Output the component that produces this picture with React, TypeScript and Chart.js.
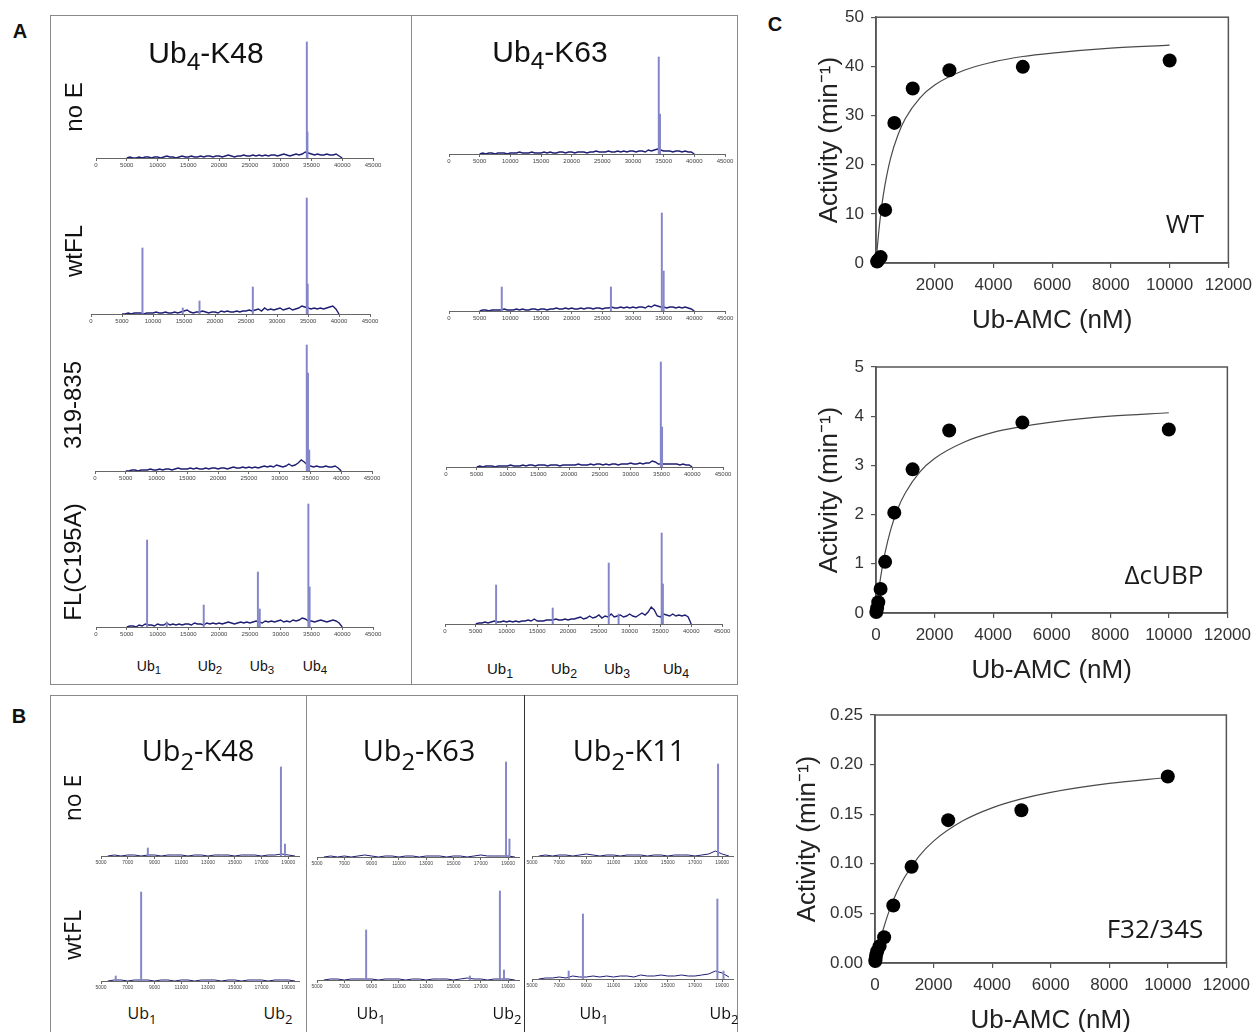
import React, { useEffect, useRef } from "react";
import { Chart, registerables } from "chart.js";

Chart.register(...registerables);
Chart.defaults.font.family = "'Liberation Sans', Arial, Helvetica, sans-serif";

// ---------------- DATA ----------------
// Panel A: Ub4 spectra (mass in Da, intensity in arbitrary units)
const TICKS_A = [0, 5000, 10000, 15000, 20000, 25000, 30000, 35000, 40000, 45000];
const MASS_A = [
  5000, 5500, 6000, 6500, 7000, 7500, 8000, 8500, 9000, 9500, 10000, 10500, 11000, 11500, 12000, 12500, 13000, 13500, 14000, 14500,
  15000, 15500, 16000, 16500, 17000, 17500, 18000, 18500, 19000, 19500, 20000, 20500, 21000, 21500, 22000, 22500, 23000, 23500, 24000, 24500,
  25000, 25500, 26000, 26500, 27000, 27500, 28000, 28500, 29000, 29500, 30000, 30500, 31000, 31500, 32000, 32500, 33000, 33500, 34000, 34500,
  35000, 35500, 36000, 36500, 37000, 37500, 38000, 38500, 39000, 39500, 40000,
];

const NOISE_K48_NOE = [
  0, 1, 0, 0, 1, 0, 1, 1, 0, 1, 1, 0, 1, 2, 1, 1, 0, 1, 2, 1,
  1, 2, 1, 1, 2, 1, 2, 2, 1, 2, 2, 1, 2, 3, 2, 1, 2, 2, 3, 2,
  2, 3, 2, 3, 2, 3, 2, 3, 3, 2, 3, 4, 3, 2, 3, 4, 3, 4, 6, 5,
  4, 3, 4, 3, 3, 4, 3, 3, 4, 2, 0,
];
const PEAKS_K48_NOE = [[34250, 116], [34350, 26]];
const NOISE_K48_WT = [
  0, 0, 1, 0, 1, 1, 1, 0, 1, 1, 1, 2, 1, 1, 2, 1, 1, 2, 1, 2,
  3, 4, 2, 1, 2, 2, 3, 2, 1, 2, 2, 1, 3, 2, 3, 2, 2, 3, 2, 3,
  3, 4, 3, 4, 5, 3, 6, 4, 5, 4, 5, 6, 4, 5, 6, 4, 5, 6, 8, 7,
  6, 5, 6, 5, 6, 5, 6, 7, 8, 5, 0,
];
const PEAKS_K48_WT = [[8300, 66], [14800, 6], [17500, 13], [26100, 27], [34800, 116], [34950, 30]];
const NOISE_K48_319 = [
  0, 0, 1, 1, 0, 1, 1, 1, 2, 1, 1, 2, 1, 2, 2, 1, 2, 3, 2, 2,
  2, 3, 2, 3, 2, 2, 3, 2, 3, 3, 2, 3, 3, 2, 3, 4, 3, 3, 4, 3,
  4, 3, 4, 3, 4, 5, 4, 5, 4, 6, 5, 4, 5, 7, 5, 6, 8, 11, 9, 6,
  5, 4, 5, 4, 4, 5, 4, 4, 5, 3, 0,
];
const PEAKS_K48_319 = [[34400, 126], [34600, 98], [34800, 21]];
const NOISE_K48_FL = [
  0, 1, 1, 0, 2, 1, 3, 2, 2, 1, 3, 2, 2, 4, 2, 3, 2, 3, 2, 3,
  3, 2, 4, 3, 3, 2, 4, 3, 4, 3, 4, 3, 4, 5, 4, 3, 4, 5, 4, 5,
  4, 5, 6, 5, 4, 6, 5, 6, 5, 6, 7, 5, 6, 5, 7, 6, 7, 9, 8, 6,
  6, 5, 6, 7, 6, 5, 6, 7, 6, 4, 0,
];
const PEAKS_K48_FL = [[8300, 87], [11500, 5], [17500, 22], [26300, 55], [26600, 18], [34500, 123], [34700, 40]];

const NOISE_K63_NOE = [
  0, 1, 0, 1, 1, 0, 1, 1, 1, 0, 1, 1, 1, 2, 1, 1, 1, 2, 1, 1,
  1, 2, 1, 2, 1, 1, 2, 2, 1, 2, 2, 1, 2, 2, 2, 1, 2, 2, 3, 2,
  2, 2, 3, 2, 2, 3, 2, 3, 2, 3, 3, 2, 3, 3, 2, 4, 3, 4, 5, 4,
  3, 3, 3, 2, 3, 3, 2, 3, 2, 2, 0,
];
const PEAKS_K63_NOE = [[34200, 97], [34400, 40]];
const NOISE_K63_WT = [
  0, 1, 1, 0, 1, 1, 1, 1, 2, 1, 1, 1, 2, 1, 2, 1, 1, 2, 2, 1,
  2, 2, 1, 2, 2, 3, 2, 2, 3, 2, 3, 2, 2, 3, 2, 3, 3, 2, 3, 3,
  2, 3, 3, 4, 3, 3, 4, 3, 4, 3, 4, 3, 4, 4, 3, 5, 4, 6, 5, 4,
  4, 3, 4, 4, 3, 4, 3, 4, 3, 2, 0,
];
const PEAKS_K63_WT = [[8600, 24], [26400, 24], [34700, 98], [35000, 40]];
const NOISE_K63_319 = [
  0, 1, 0, 1, 1, 1, 0, 1, 1, 1, 1, 2, 1, 1, 1, 2, 1, 2, 2, 1,
  2, 2, 2, 1, 2, 2, 2, 1, 2, 2, 2, 2, 2, 3, 2, 2, 2, 3, 2, 3,
  3, 2, 3, 2, 3, 3, 2, 3, 3, 3, 4, 3, 3, 4, 3, 4, 4, 6, 5, 3,
  3, 3, 3, 3, 3, 3, 2, 3, 2, 2, 0,
];
const PEAKS_K63_319 = [[34900, 105], [35100, 40]];
const NOISE_K63_FL = [
  0, 1, 1, 2, 1, 2, 3, 2, 2, 3, 2, 3, 2, 3, 2, 3, 3, 4, 3, 5,
  3, 3, 3, 4, 4, 4, 5, 4, 4, 5, 4, 5, 5, 6, 7, 5, 6, 8, 6, 7,
  9, 6, 8, 7, 10, 7, 8, 9, 7, 8, 10, 8, 7, 9, 11, 9, 12, 17, 14, 8,
  7, 10, 9, 8, 10, 8, 9, 8, 9, 7, 0,
];
const PEAKS_K63_FL = [[8300, 39], [17500, 16], [26600, 61], [28200, 10], [35200, 91], [35400, 40]];

// Panel B: Ub2 spectra
const TICKS_B = [5000, 7000, 9000, 11000, 13000, 15000, 17000, 19000];
const MASS_B = [5500, 6000, 6500, 7000, 7500, 8000, 8500, 9000, 9500, 10000, 10500, 11000, 11500, 12000, 12500, 13000, 13500, 14000, 14500, 15000, 15500, 16000, 16500, 17000, 17500, 18000, 18500, 19000, 19500];

const NOISE_B48_NOE = [0, 1, 0, 1, 1, 0, 1, 1, 0, 1, 1, 1, 0, 1, 1, 0, 1, 1, 1, 0, 1, 1, 1, 0, 1, 1, 2, 1, 0];
const PEAKS_B48_NOE = [[8500, 8], [18450, 89], [18750, 12]];
const NOISE_B48_WT = [0, 1, 1, 0, 1, 1, 1, 0, 1, 1, 0, 1, 1, 0, 1, 1, 1, 0, 1, 1, 0, 1, 1, 1, 0, 1, 1, 1, 0];
const PEAKS_B48_WT = [[6100, 5], [8000, 89]];
const NOISE_B63_NOE = [0, 1, 0, 1, 0, 1, 2, 1, 0, 1, 1, 0, 1, 1, 0, 1, 1, 1, 0, 1, 1, 0, 1, 2, 1, 1, 1, 1, 0];
const PEAKS_B63_NOE = [[18850, 95], [19100, 18]];
const NOISE_B63_WT = [0, 1, 1, 0, 1, 1, 1, 1, 0, 1, 1, 1, 0, 1, 1, 0, 1, 1, 1, 0, 1, 2, 1, 1, 0, 1, 1, 1, 0];
const PEAKS_B63_WT = [[8600, 50], [16200, 4], [18400, 89], [18700, 10]];
const NOISE_B11_NOE = [0, 1, 0, 1, 1, 0, 1, 2, 1, 0, 1, 1, 0, 1, 1, 1, 0, 1, 1, 0, 1, 1, 1, 0, 1, 2, 5, 2, 0];
const PEAKS_B11_NOE = [[18700, 92]];
const NOISE_B11_WT = [0, 1, 1, 2, 1, 3, 2, 2, 3, 2, 3, 2, 3, 3, 2, 4, 3, 3, 4, 3, 3, 4, 3, 3, 4, 5, 8, 6, 2];
const PEAKS_B11_WT = [[7700, 8], [8750, 65], [18650, 80], [19100, 8]];

// Panel C: Ub-AMC kinetics
const C_X_TICKS = [0, 2000, 4000, 6000, 8000, 10000, 12000];
const WT_Y_TICKS = [0, 10, 20, 30, 40, 50];
const DC_Y_TICKS = [0, 1, 2, 3, 4, 5];
const F3_Y_TICKS = [0, 0.05, 0.1, 0.15, 0.2, 0.25];

const WT_CONC = [39, 78, 156, 312, 625, 1250, 2500, 5000, 10000];
const WT_ACT = [0.3, 0.6, 1.2, 10.8, 28.5, 35.5, 39.2, 39.9, 41.2];
const DC_CONC = [10, 39, 78, 156, 312, 625, 1250, 2500, 5000, 10000];
const DC_ACT = [0.02, 0.1, 0.22, 0.49, 1.04, 2.04, 2.92, 3.71, 3.87, 3.73];
const F3_CONC = [10, 20, 39, 78, 156, 312, 625, 1250, 2500, 5000, 10000];
const F3_ACT = [0.002, 0.004, 0.008, 0.012, 0.017, 0.026, 0.058, 0.097, 0.144, 0.154, 0.188];

const FIT_CONC = [0, 100, 200, 300, 500, 750, 1000, 1500, 2000, 3000, 4000, 5000, 6000, 8000, 10000];
const WT_FIT = [0, 6.7, 11.8, 15.7, 21.4, 26.1, 29.4, 33.6, 36.2, 39.2, 40.9, 42.0, 42.7, 43.7, 44.3];
const DC_FIT = [0, 0.49, 0.88, 1.2, 1.69, 2.13, 2.44, 2.87, 3.14, 3.47, 3.67, 3.79, 3.88, 4.0, 4.07];
const F3_FIT = [0, 0.0134, 0.0253, 0.0358, 0.0538, 0.0717, 0.086, 0.1075, 0.1229, 0.1433, 0.1564, 0.1654, 0.172, 0.181, 0.187];

// ---------------- STYLE / LAYOUT ----------------
const SANS = "'Liberation Sans', Arial, Helvetica, sans-serif";
const OPEN = "'Open Sans', 'Noto Sans', sans-serif";
const NOISE_COLOR = "#1e1e74";
const PEAK_COLOR = "#8486c9";

type SpecProps = {
  mass: number[]; noise: number[]; peaks: number[][]; ticks: number[];
  min: number; max: number; ymax: number;
  x0: number; x1: number; base: number; h: number; font: number; lw: number;
};

function Spectrum(p: SpecProps) {
  const ref = useRef<HTMLCanvasElement>(null);
  const pad = 14;
  const axisH = 14;
  useEffect(() => {
    const chart = new Chart(ref.current as HTMLCanvasElement, {
      type: "bar",
      data: {
        datasets: [
          {
            type: "bar",
            data: p.peaks.map((q) => ({ x: q[0], y: q[1] })),
            backgroundColor: PEAK_COLOR,
            barThickness: 1.3,
            grouped: false,
          } as any,
          {
            type: "line",
            data: p.mass.map((m, i) => ({ x: m, y: p.noise[i] })),
            borderColor: NOISE_COLOR,
            borderWidth: p.lw,
            pointRadius: 0,
            tension: 0,
          } as any,
        ],
      },
      options: {
        responsive: false,
        animation: false,
        events: [],
        layout: { padding: { left: pad, right: pad, top: 0, bottom: 0 } },
        plugins: { legend: { display: false }, tooltip: { enabled: false } },
        scales: {
          x: {
            type: "linear",
            min: p.min,
            max: p.max,
            offset: false,
            afterBuildTicks: (a: any) => { a.ticks = p.ticks.map((v) => ({ value: v })); },
            afterFit: (a: any) => { a.height = axisH; },
            ticks: { font: { size: p.font }, color: "#444", padding: 1, maxRotation: 0, autoSkip: false, callback: (v: any) => String(v) },
            grid: { display: true, drawOnChartArea: false, drawTicks: true, tickLength: 3, color: "#666", offset: false },
            border: { display: true, color: "#666", width: 1 },
          },
          y: { display: false, min: 0, max: p.ymax },
        },
      } as any,
    });
    return () => chart.destroy();
  }, []);
  const w = p.x1 - p.x0 + 2 * pad;
  const hh = p.h + axisH;
  return (
    <canvas ref={ref} width={w} height={hh}
      style={{ position: "absolute", left: p.x0 - pad, top: p.base - p.h, width: w, height: hh }} />
  );
}

const boxPlugin = {
  id: "boxFrame",
  beforeDatasetsDraw(chart: any) {
    const { ctx, chartArea } = chart;
    ctx.save();
    ctx.strokeStyle = "#555";
    ctx.lineWidth = 1.5;
    ctx.strokeRect(chartArea.left, chartArea.top, chartArea.right - chartArea.left, chartArea.bottom - chartArea.top);
    ctx.restore();
  },
};

type KinProps = {
  px: number[]; py: number[]; cx: number[]; cy: number[];
  yTicks: number[]; yMax: number; yDigits: number; hideZeroX: boolean;
  left: number; top: number; w: number; h: number; padTop: number; padRight: number; yW: number; xH: number;
};

function Kinetics(p: KinProps) {
  const ref = useRef<HTMLCanvasElement>(null);
  useEffect(() => {
    const chart = new Chart(ref.current as HTMLCanvasElement, {
      type: "scatter",
      data: {
        datasets: [
          {
            data: p.px.map((x, i) => ({ x, y: p.py[i] })),
            backgroundColor: "#000",
            borderColor: "#000",
            pointRadius: 7,
            pointBorderWidth: 0,
            clip: false,
          } as any,
          {
            type: "line",
            data: p.cx.map((x, i) => ({ x, y: p.cy[i] })),
            borderColor: "#4a4a4a",
            borderWidth: 1.2,
            pointRadius: 0,
            showLine: true,
            fill: false,
            cubicInterpolationMode: "monotone",
          } as any,
        ],
      },
      options: {
        responsive: false,
        animation: false,
        events: [],
        layout: { padding: { left: 0, right: p.padRight, top: p.padTop, bottom: 0 } },
        plugins: { legend: { display: false }, tooltip: { enabled: false } },
        scales: {
          x: {
            type: "linear", min: 0, max: 12000,
            afterBuildTicks: (a: any) => { a.ticks = C_X_TICKS.map((v) => ({ value: v })); },
            afterFit: (a: any) => { a.height = p.xH; },
            ticks: {
              font: { size: 17 }, color: "#333", padding: 7, maxRotation: 0, autoSkip: false,
              callback: (v: any) => (p.hideZeroX && v === 0 ? "" : String(v)),
            },
            grid: { display: true, drawOnChartArea: false, drawTicks: true, tickLength: 5, color: "#555", lineWidth: 1.2 },
            border: { display: true, color: "#555", width: 1.5 },
            title: { display: true, text: "Ub-AMC (nM)", font: { size: 26 }, color: "#222", padding: { top: 4, bottom: 4 } },
          },
          y: {
            type: "linear", min: 0, max: p.yMax,
            afterBuildTicks: (a: any) => { a.ticks = p.yTicks.map((v) => ({ value: v })); },
            afterFit: (a: any) => { a.width = p.yW; },
            ticks: { font: { size: 17 }, color: "#333", padding: 7, autoSkip: false, callback: (v: any) => Number(v).toFixed(p.yDigits) },
            grid: { display: true, drawOnChartArea: false, drawTicks: true, tickLength: 5, color: "#555", lineWidth: 1.2 },
            border: { display: true, color: "#555", width: 1.5 },
            title: { display: true, text: "Activity (min\u207B\u00B9)", font: { size: 26 }, color: "#222", padding: { top: 4, bottom: 4 } },
          },
        },
      } as any,
      plugins: [boxPlugin],
    });
    return () => chart.destroy();
  }, []);
  return (
    <canvas ref={ref} width={p.w} height={p.h}
      style={{ position: "absolute", left: p.left, top: p.top, width: p.w, height: p.h }} />
  );
}

function Label(props: { x: number; y: number; size: number; family?: string; bold?: boolean; rotate?: boolean; color?: string; children: any }) {
  const { x, y, size, family = SANS, bold, rotate, color = "#111", children } = props;
  return (
    <div style={{
      position: "absolute", left: x, top: y,
      transform: `translate(-50%,-50%)${rotate ? " rotate(-90deg)" : ""}`,
      fontSize: size, fontFamily: family, fontWeight: bold ? 700 : 400,
      lineHeight: 1, whiteSpace: "nowrap", color,
    }}>{children}</div>
  );
}

function Sub(props: { children: any; drop?: number; scale?: number }) {
  const { children, drop = 0.3, scale = 0.82 } = props;
  return <span style={{ fontSize: `${scale}em`, position: "relative", top: `${drop}em` }}>{children}</span>;
}

const A_SPECTRA = [
  { noise: NOISE_K48_NOE, peaks: PEAKS_K48_NOE, x0: 96, x1: 373, base: 158 },
  { noise: NOISE_K48_WT, peaks: PEAKS_K48_WT, x0: 91, x1: 370, base: 314 },
  { noise: NOISE_K48_319, peaks: PEAKS_K48_319, x0: 95, x1: 372, base: 471 },
  { noise: NOISE_K48_FL, peaks: PEAKS_K48_FL, x0: 96, x1: 373, base: 627 },
  { noise: NOISE_K63_NOE, peaks: PEAKS_K63_NOE, x0: 449, x1: 725, base: 154 },
  { noise: NOISE_K63_WT, peaks: PEAKS_K63_WT, x0: 449, x1: 725, base: 311 },
  { noise: NOISE_K63_319, peaks: PEAKS_K63_319, x0: 446, x1: 723, base: 467 },
  { noise: NOISE_K63_FL, peaks: PEAKS_K63_FL, x0: 445, x1: 722, base: 624 },
];

const B_SPECTRA = [
  { noise: NOISE_B48_NOE, peaks: PEAKS_B48_NOE, x0: 101, x1: 299, base: 856 },
  { noise: NOISE_B48_WT, peaks: PEAKS_B48_WT, x0: 101, x1: 299, base: 981 },
  { noise: NOISE_B63_NOE, peaks: PEAKS_B63_NOE, x0: 317, x1: 519, base: 857 },
  { noise: NOISE_B63_WT, peaks: PEAKS_B63_WT, x0: 317, x1: 519, base: 980 },
  { noise: NOISE_B11_NOE, peaks: PEAKS_B11_NOE, x0: 532, x1: 733, base: 856 },
  { noise: NOISE_B11_WT, peaks: PEAKS_B11_WT, x0: 532, x1: 733, base: 979 },
];

const FRAME = "1.5px solid #8a8a8a";

export default function App() {
  return (
    <div style={{ position: "absolute", left: 0, top: 0, width: 1259, height: 1032, overflow: "hidden", background: "#fff", fontFamily: SANS }}>
      {/* frames */}
      <div style={{ position: "absolute", left: 50, top: 15, width: 688, height: 670, boxSizing: "border-box", border: FRAME }} />
      <div style={{ position: "absolute", left: 411, top: 15, width: 0, height: 670, borderLeft: FRAME }} />
      <div style={{ position: "absolute", left: 50, top: 695, width: 688, height: 400, boxSizing: "border-box", border: FRAME }} />
      <div style={{ position: "absolute", left: 306, top: 695, width: 0, height: 400, borderLeft: FRAME }} />
      <div style={{ position: "absolute", left: 524, top: 695, width: 0, height: 400, borderLeft: "1.5px solid #333" }} />

      {A_SPECTRA.map((s, i) => (
        <Spectrum key={"a" + i} mass={MASS_A} noise={s.noise} peaks={s.peaks} ticks={TICKS_A}
          min={0} max={45000} ymax={130} x0={s.x0} x1={s.x1} base={s.base} h={130} font={6} lw={1.4} />
      ))}
      {B_SPECTRA.map((s, i) => (
        <Spectrum key={"b" + i} mass={MASS_B} noise={s.noise} peaks={s.peaks} ticks={TICKS_B}
          min={5000} max={19800} ymax={100} x0={s.x0} x1={s.x1} base={s.base} h={100} font={5} lw={1} />
      ))}

      <Kinetics px={WT_CONC} py={WT_ACT} cx={FIT_CONC} cy={WT_FIT} yTicks={WT_Y_TICKS} yMax={50} yDigits={0} hideZeroX={true}
        left={810} top={0} w={449} h={340} padTop={17} padRight={29} yW={66} xH={77} />
      <Kinetics px={DC_CONC} py={DC_ACT} cx={FIT_CONC} cy={DC_FIT} yTicks={DC_Y_TICKS} yMax={5} yDigits={0} hideZeroX={false}
        left={810} top={340} w={448} h={350} padTop={27} padRight={29} yW={66} xH={77} />
      <Kinetics px={F3_CONC} py={F3_ACT} cx={FIT_CONC} cy={F3_FIT} yTicks={F3_Y_TICKS} yMax={0.25} yDigits={2} hideZeroX={false}
        left={788} top={690} w={469} h={350} padTop={25} padRight={29} yW={87} xH={77} />

      {/* panel letters */}
      <Label x={20} y={31} size={20} bold>A</Label>
      <Label x={19} y={716} size={20} bold>B</Label>
      <Label x={775} y={24} size={20} bold>C</Label>

      {/* panel A titles */}
      <Label x={206} y={53} size={30}>Ub<Sub>4</Sub>-K48</Label>
      <Label x={550} y={52} size={30}>Ub<Sub>4</Sub>-K63</Label>

      {/* panel A row labels */}
      <Label x={74} y={107} size={24} rotate>no E</Label>
      <Label x={74} y={251} size={24} rotate>wtFL</Label>
      <Label x={73} y={405} size={24} rotate>319-835</Label>
      <Label x={73} y={562} size={24} rotate>FL(C195A)</Label>

      {/* panel A Ub labels */}
      <Label x={149} y={666} size={14}>Ub<Sub>1</Sub></Label>
      <Label x={210} y={666} size={14}>Ub<Sub>2</Sub></Label>
      <Label x={262} y={666} size={14}>Ub<Sub>3</Sub></Label>
      <Label x={315} y={666} size={14}>Ub<Sub>4</Sub></Label>
      <Label x={500} y={669} size={15}>Ub<Sub>1</Sub></Label>
      <Label x={564} y={669} size={15}>Ub<Sub>2</Sub></Label>
      <Label x={617} y={669} size={15}>Ub<Sub>3</Sub></Label>
      <Label x={676} y={669} size={15}>Ub<Sub>4</Sub></Label>

      {/* panel B titles */}
      <Label x={198} y={750} size={29} family={OPEN}>Ub<Sub drop={0.38}>2</Sub>-K48</Label>
      <Label x={419} y={750} size={29} family={OPEN}>Ub<Sub drop={0.38}>2</Sub>-K63</Label>
      <Label x={629} y={750} size={29} family={OPEN}>Ub<Sub drop={0.38}>2</Sub>-K11</Label>

      {/* panel B row labels */}
      <Label x={72} y={798} size={23} family={OPEN} rotate>no E</Label>
      <Label x={72} y={935} size={23} family={OPEN} rotate>wtFL</Label>

      {/* panel B Ub labels */}
      <Label x={142} y={1013} size={16} family={OPEN}>Ub<Sub drop={0.4}>1</Sub></Label>
      <Label x={278} y={1013} size={16} family={OPEN}>Ub<Sub drop={0.4}>2</Sub></Label>
      <Label x={371} y={1013} size={16} family={OPEN}>Ub<Sub drop={0.4}>1</Sub></Label>
      <Label x={507} y={1013} size={16} family={OPEN}>Ub<Sub drop={0.4}>2</Sub></Label>
      <Label x={594} y={1013} size={16} family={OPEN}>Ub<Sub drop={0.4}>1</Sub></Label>
      <Label x={724} y={1013} size={16} family={OPEN}>Ub<Sub drop={0.4}>2</Sub></Label>

      {/* panel C inset labels */}
      <Label x={1185} y={223} size={26} family={OPEN} color="#1a1a1a">WT</Label>
      <Label x={1164} y={574} size={26} family={OPEN} color="#1a1a1a">&Delta;cUBP</Label>
      <Label x={1155} y={928} size={26} family={OPEN} color="#1a1a1a">F32/34S</Label>
    </div>
  );
}
